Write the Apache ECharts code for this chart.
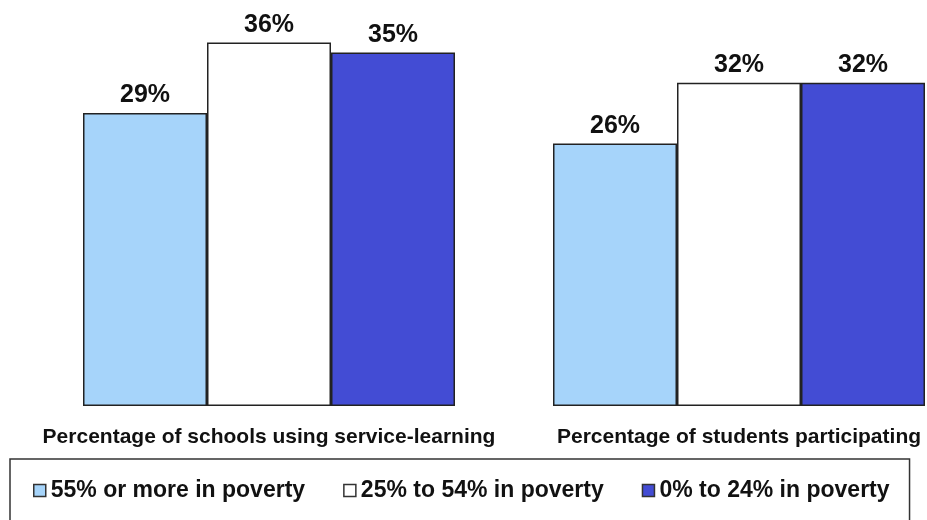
<!DOCTYPE html>
<html>
<head>
<meta charset="utf-8">
<script src="https://cdn.jsdelivr.net/npm/echarts@6/dist/echarts.min.js"></script>
<style>
  html, body { margin: 0; padding: 0; background: #fff; }
  #chart { width: 927px; height: 520px; }
</style>
</head>
<body>
<div id="chart"></div>
<script>
// Measures shown on the category axis
const categories = [
  'Percentage of schools using service-learning',
  'Percentage of students participating'
];

// Poverty bands (legend order)
const seriesNames = [
  '55% or more in poverty',
  '25% to 54% in poverty',
  '0% to 24% in poverty'
];

// Percent values per poverty band, one entry per category
const highPoverty = [29, 26];
const midPoverty = [36, 32];
const lowPoverty = [35, 32];

const seriesValues = [highPoverty, midPoverty, lowPoverty];
const seriesColors = ['#A6D4FA', '#FFFFFF', '#434CD4'];

const chart = echarts.init(document.getElementById('chart'), null, { renderer: 'canvas' });

const fontFamily = 'Liberation Sans, Arial, Helvetica, sans-serif';

chart.setOption({
  animation: false,
  backgroundColor: '#ffffff',
  textStyle: { fontFamily: fontFamily },
  // the plot runs past the right edge so the second group sits flush with it
  grid: {
    left: 34, top: 2, right: -47, bottom: 114,
    containLabel: false,
    outerBoundsMode: 'none'
  },
  xAxis: {
    type: 'category',
    data: categories,
    axisLine: { show: false },
    axisTick: { show: false },
    axisLabel: {
      interval: 0,
      margin: 21,
      fontSize: 21,
      fontWeight: 'bold',
      color: '#111',
      fontFamily: fontFamily
    }
  },
  yAxis: {
    type: 'value',
    min: 0,
    max: 40,
    show: false,
    splitLine: { show: false }
  },
  legend: {
    data: seriesNames,
    left: 10,
    top: 459,
    padding: [20, 20, 40, 23],
    itemGap: 38,
    itemWidth: 12,
    itemHeight: 12,
    icon: 'rect',
    borderColor: '#333',
    borderWidth: 1.5,
    itemStyle: { borderColor: '#333', borderWidth: 1.5 },
    textStyle: {
      fontSize: 23,
      fontWeight: 'bold',
      color: '#111',
      fontFamily: fontFamily
    }
  },
  series: seriesNames.map((name, i) => ({
    name: name,
    type: 'bar',
    data: seriesValues[i],
    barWidth: 124,
    barGap: '0%',
    itemStyle: {
      color: seriesColors[i],
      borderColor: '#222',
      borderWidth: 1.5
    },
    label: {
      show: true,
      position: 'top',
      distance: 5,
      formatter: '{c}%',
      fontSize: 25,
      fontWeight: 'bold',
      color: '#111',
      fontFamily: fontFamily
    }
  }))
});
</script>
</body>
</html>
